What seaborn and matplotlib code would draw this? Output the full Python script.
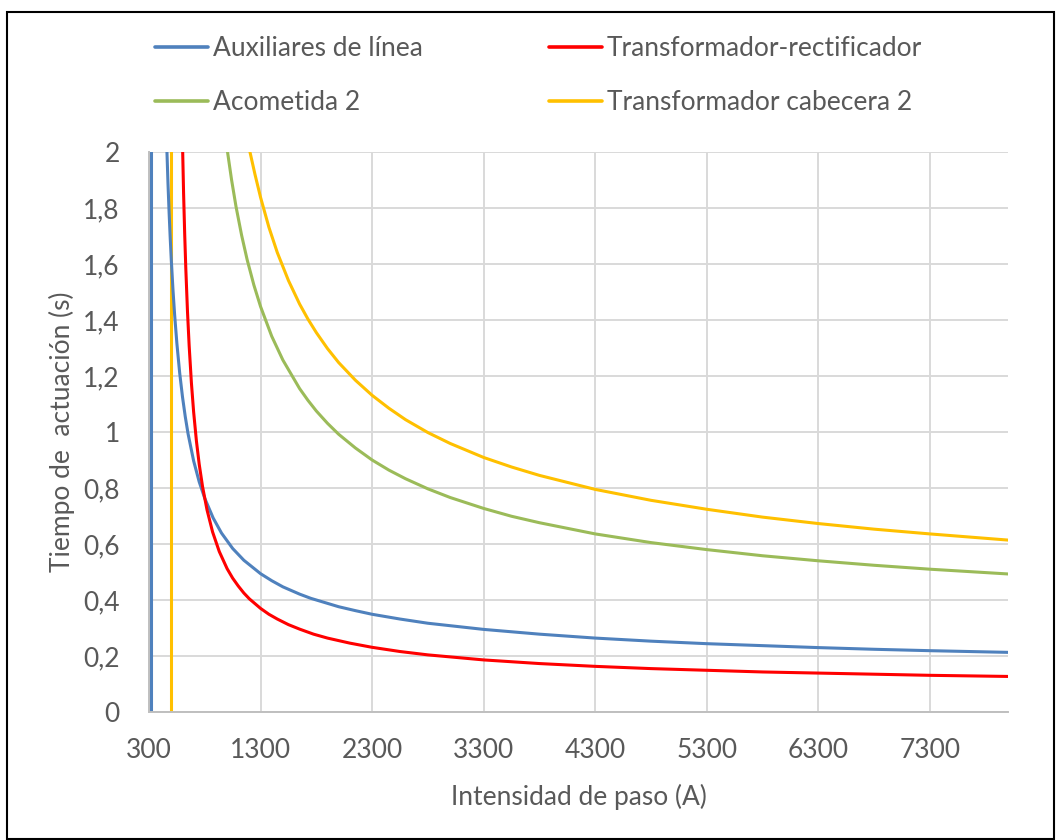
import numpy as np
import pandas as pd
import matplotlib
matplotlib.use("Agg")
import matplotlib.pyplot as plt
from matplotlib.patches import Rectangle
from matplotlib.lines import Line2D
import seaborn as sns

# ---- data (current in A, time in s) ----
aux_I = [461, 470, 480, 490, 500, 515, 530, 550, 575, 600, 625, 650, 700, 750, 800, 875, 950,
         1050, 1150, 1300, 1400, 1500, 1650, 1750, 2000, 2150, 2300, 2550, 2800, 3300, 3800,
         4300, 4800, 5300, 5800, 6300, 6800, 7300, 8000]
aux_t = [2.0, 1.89, 1.786, 1.694, 1.613, 1.507, 1.417, 1.316, 1.211, 1.126, 1.055, 0.994, 0.897,
         0.822, 0.763, 0.693, 0.639, 0.584, 0.542, 0.494, 0.469, 0.447, 0.421, 0.406, 0.376,
         0.362, 0.349, 0.332, 0.317, 0.295, 0.278, 0.264, 0.253, 0.244, 0.237, 0.23, 0.224,
         0.219, 0.213]
aux_pickup_I = [320, 320]
aux_pickup_t = [0, 2]

rect_I = [602, 610, 620, 630, 645, 660, 680, 700, 725, 750, 780, 820, 870, 930, 1000, 1050, 1100,
          1150, 1200, 1300, 1375, 1450, 1550, 1650, 1775, 1900, 2100, 2300, 2550, 2800, 3300,
          3800, 4300, 4800, 5300, 5800, 6300, 6800, 7300, 8000]
rect_t = [2.0, 1.853, 1.706, 1.583, 1.43, 1.308, 1.176, 1.072, 0.968, 0.885, 0.805, 0.722, 0.643,
          0.573, 0.512, 0.478, 0.45, 0.425, 0.404, 0.37, 0.349, 0.332, 0.312, 0.296, 0.278,
          0.264, 0.246, 0.231, 0.216, 0.204, 0.186, 0.173, 0.163, 0.155, 0.149, 0.143, 0.139,
          0.135, 0.131, 0.127]

acom_I = [1004, 1040, 1080, 1130, 1180, 1240, 1300, 1400, 1500, 1650, 1725, 1800, 1900, 2000,
          2150, 2300, 2450, 2600, 2800, 3000, 3300, 3550, 3800, 4300, 4800, 5300, 5800, 6300,
          6800, 7300, 8000]
acom_t = [2.0, 1.901, 1.805, 1.703, 1.615, 1.525, 1.448, 1.342, 1.257, 1.155, 1.113, 1.075,
          1.031, 0.992, 0.943, 0.9, 0.864, 0.833, 0.797, 0.766, 0.727, 0.699, 0.676, 0.636,
          0.605, 0.58, 0.558, 0.54, 0.524, 0.51, 0.493]

cab_I = [1205, 1250, 1300, 1375, 1450, 1550, 1650, 1725, 1800, 1900, 2000, 2150, 2300, 2450,
         2600, 2800, 3000, 3300, 3550, 3800, 4300, 4800, 5300, 5800, 6300, 6800, 7300, 8000]
cab_t = [2.0, 1.92, 1.838, 1.731, 1.641, 1.541, 1.457, 1.403, 1.355, 1.298, 1.248, 1.185, 1.131,
         1.085, 1.044, 0.998, 0.959, 0.909, 0.875, 0.845, 0.795, 0.756, 0.724, 0.696, 0.673,
         0.653, 0.636, 0.614]
cab_pickup_I = [500, 500]
cab_pickup_t = [0, 2]

series_names = ["Auxiliares de línea", "Transformador-rectificador", "Acometida 2", "Transformador cabecera 2"]
x_ticks = [300, 1300, 2300, 3300, 4300, 5300, 6300, 7300]
y_ticks = [0, 0.2, 0.4, 0.6, 0.8, 1.0, 1.2, 1.4, 1.6, 1.8, 2.0]
y_tick_labels = ["0", "0,2", "0,4", "0,6", "0,8", "1", "1,2", "1,4", "1,6", "1,8", "2"]
x_label = "Intensidad de paso (A)"
y_label = "Tiempo de  actuación (s)"

colors = {"Auxiliares de línea": "#4F81BD", "Transformador-rectificador": "#FF0000",
          "Acometida 2": "#9BBB59", "Transformador cabecera 2": "#FFC000"}

sns.set_theme(style="white")
plt.rcParams["font.family"] = ["Lato", "DejaVu Sans"]
text_color = "#595959"
fs = 19

fig = plt.figure(figsize=(10.62, 8.4), dpi=100)
ax = fig.add_axes([149 / 1062, 1 - 712 / 840, (1008 - 149) / 1062, (712 - 152) / 840])

lw = 2.2
def draw(xs, ys, name):
    df = pd.DataFrame({"I": xs, "t": ys})
    sns.lineplot(data=df, x="I", y="t", ax=ax, color=colors[name], lw=lw,
                 estimator=None, sort=False, legend=False)

draw(aux_pickup_I, aux_pickup_t, series_names[0])
draw(cab_pickup_I, cab_pickup_t, series_names[3])
draw(aux_I, aux_t, series_names[0])
draw(rect_I, rect_t, series_names[1])
draw(acom_I, acom_t, series_names[2])
draw(cab_I, cab_t, series_names[3])

ax.set_xlim(300, 8000)
ax.set_ylim(0, 2)
ax.set_xticks(x_ticks)
ax.set_xticklabels([str(v) for v in x_ticks])
ax.set_yticks(y_ticks)
ax.set_yticklabels(y_tick_labels)
ax.tick_params(axis="both", length=0, labelsize=fs, colors=text_color)
ax.tick_params(axis="x", pad=19)
ax.tick_params(axis="y", pad=21)
ax.grid(True, color="#D9D9D9", lw=1.4)
ax.set_axisbelow(True)
for s in ["top", "right"]:
    ax.spines[s].set_visible(False)
for s in ["left", "bottom"]:
    ax.spines[s].set_color("#BFBFBF")
    ax.spines[s].set_linewidth(1.4)
ax.set_xlabel(x_label, fontsize=fs, color=text_color, labelpad=15)
ax.set_ylabel(y_label, fontsize=fs, color=text_color, labelpad=6)

handles = [Line2D([], [], color=colors[n], lw=2.6) for n in series_names]
order = [0, 2, 1, 3]
leg = fig.legend([handles[i] for i in order], [series_names[i] for i in order],
                 ncol=2, loc="upper left", bbox_to_anchor=(155 / 1062, 1 - 36 / 840),
                 frameon=False, fontsize=fs, handlelength=2.0, handletextpad=0.19,
                 columnspacing=4.8, labelspacing=1.1, borderpad=0, borderaxespad=0,
                 labelcolor=text_color)

fig.patches.append(Rectangle((7 / 1062, 1 / 840), 1047 / 1062, 827 / 840, transform=fig.transFigure,
                             fill=False, edgecolor="black", lw=1.5))

fig.savefig("out.png", dpi=100)
